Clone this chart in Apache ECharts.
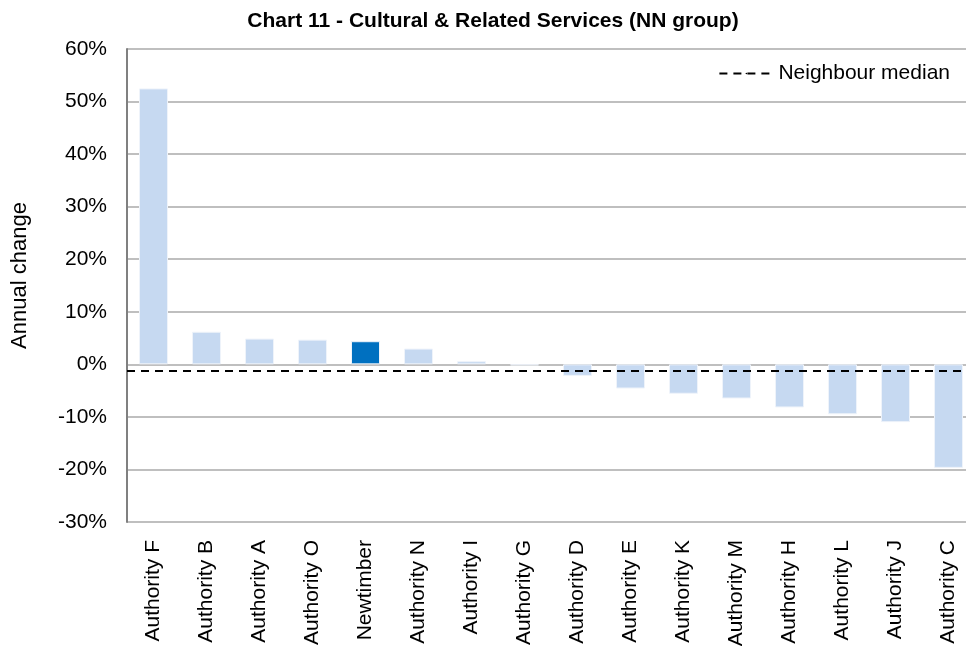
<!DOCTYPE html>
<html>
<head>
<meta charset="utf-8">
<script src="https://cdn.jsdelivr.net/npm/echarts@6/dist/echarts.min.js"></script>
<style>
  html, body { margin: 0; padding: 0; background: #fff; }
  #chart { width: 966px; height: 646px; }
</style>
</head>
<body>
<div id="chart"></div>
<script>
const authorities = ['Authority F', 'Authority B', 'Authority A', 'Authority O', 'Newtimber', 'Authority N',
  'Authority I', 'Authority G', 'Authority D', 'Authority E', 'Authority K', 'Authority M',
  'Authority H', 'Authority L', 'Authority J', 'Authority C'];
const annualChange = [52.5, 6.2, 4.9, 4.7, 4.4, 3.0, 0.6, -0.2, -2.2, -4.6, -5.6, -6.5, -8.2, -9.5, -11.0, -19.7];
const neighbourMedian = -1.25;
const highlight = 'Newtimber';

const chart = echarts.init(document.getElementById('chart'));

const barData = annualChange.map((v, i) => ({
  value: v,
  itemStyle: { color: authorities[i] === highlight ? '#0070C0' : '#C6D9F1' }
}));

const option = {
  animation: false,
  textStyle: { fontFamily: 'Liberation Sans, Arial, sans-serif', color: '#000' },
  title: {
    text: 'Chart 11 - Cultural & Related Services (NN group)',
    left: 488,
    textAlign: 'center',
    top: 6,
    textStyle: { fontSize: 21, fontWeight: 'bold', color: '#000', fontFamily: 'Liberation Sans, Arial, sans-serif' }
  },
  legend: {
    data: ['Neighbour median'],
    right: 11,
    top: 58,
    itemWidth: 54,
    itemHeight: 2,
    itemGap: 6,
    textStyle: { fontSize: 21, color: '#000' }
  },
  grid: { left: 127, width: 848, top: 49, bottom: 124, containLabel: false, outerBoundsMode: 'none' },
  xAxis: {
    type: 'category',
    data: authorities,
    axisLine: { show: false },
    axisTick: { show: false },
    axisLabel: { rotate: 90, fontSize: 21, color: '#000', margin: 18, interval: 0 }
  },
  yAxis: {
    type: 'value',
    min: -30,
    max: 60,
    interval: 10,
    name: 'Annual change',
    nameLocation: 'middle',
    nameGap: 96,
    nameTextStyle: { fontSize: 22, color: '#000', padding: [0, 0, 0, 20] },
    axisLine: { show: true, lineStyle: { color: '#808080', width: 2 } },
    axisTick: { show: false },
    axisLabel: { formatter: '{value}%', fontSize: 21, color: '#000', margin: 20 },
    splitLine: { lineStyle: { color: '#BFBFBF', width: 2 } }
  },
  series: [
    {
      name: 'Annual change',
      type: 'bar',
      data: barData,
      barWidth: 29,
      itemStyle: { borderColor: '#EEF3FA', borderWidth: 1 }
    },
    {
      name: 'Neighbour median',
      type: 'line',
      data: [],
      symbol: 'none',
      itemStyle: { color: '#000' },
      lineStyle: { color: '#000', type: [8, 6], width: 2 },
      markLine: {
        silent: true,
        symbol: 'none',
        label: { show: false },
        lineStyle: { color: '#000', type: [8, 6], width: 2 },
        data: [{ yAxis: neighbourMedian }]
      }
    }
  ]
};

chart.setOption(option);
</script>
</body>
</html>
